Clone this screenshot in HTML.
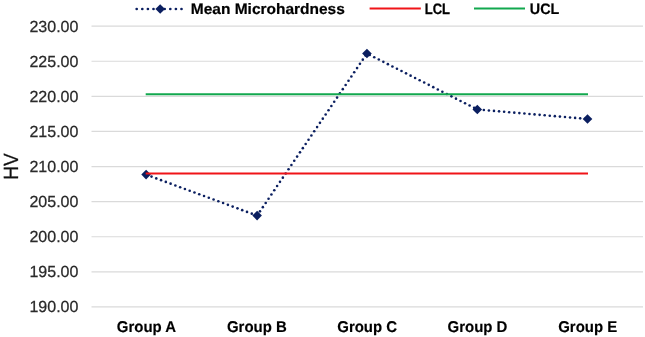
<!DOCTYPE html><html><head><meta charset="utf-8"><style>html,body{margin:0;padding:0;background:#fff;width:645px;height:337px;overflow:hidden}svg{display:block;will-change:transform}text{font-family:"Liberation Sans",sans-serif;text-rendering:geometricPrecision}</style></head><body>
<svg width="645" height="337" viewBox="0 0 645 337">
<rect width="645" height="337" fill="#fff"/>
<line x1="91.5" y1="26.15" x2="643" y2="26.15" stroke="#DADADA" stroke-width="1.2"/>
<line x1="91.5" y1="61.25" x2="643" y2="61.25" stroke="#DADADA" stroke-width="1.2"/>
<line x1="91.5" y1="96.35" x2="643" y2="96.35" stroke="#DADADA" stroke-width="1.2"/>
<line x1="91.5" y1="131.45" x2="643" y2="131.45" stroke="#DADADA" stroke-width="1.2"/>
<line x1="91.5" y1="166.55" x2="643" y2="166.55" stroke="#DADADA" stroke-width="1.2"/>
<line x1="91.5" y1="201.65" x2="643" y2="201.65" stroke="#DADADA" stroke-width="1.2"/>
<line x1="91.5" y1="236.75" x2="643" y2="236.75" stroke="#DADADA" stroke-width="1.2"/>
<line x1="91.5" y1="271.85" x2="643" y2="271.85" stroke="#DADADA" stroke-width="1.2"/>
<line x1="91.5" y1="306.95" x2="643" y2="306.95" stroke="#DADADA" stroke-width="1.2"/>
<text x="78.4" y="31.65" text-anchor="end" font-size="16" fill="#2A2A2A" stroke="#2A2A2A" stroke-width="0.25">230.00</text>
<text x="78.4" y="66.75" text-anchor="end" font-size="16" fill="#2A2A2A" stroke="#2A2A2A" stroke-width="0.25">225.00</text>
<text x="78.4" y="101.85" text-anchor="end" font-size="16" fill="#2A2A2A" stroke="#2A2A2A" stroke-width="0.25">220.00</text>
<text x="78.4" y="136.95" text-anchor="end" font-size="16" fill="#2A2A2A" stroke="#2A2A2A" stroke-width="0.25">215.00</text>
<text x="78.4" y="172.05" text-anchor="end" font-size="16" fill="#2A2A2A" stroke="#2A2A2A" stroke-width="0.25">210.00</text>
<text x="78.4" y="207.15" text-anchor="end" font-size="16" fill="#2A2A2A" stroke="#2A2A2A" stroke-width="0.25">205.00</text>
<text x="78.4" y="242.25" text-anchor="end" font-size="16" fill="#2A2A2A" stroke="#2A2A2A" stroke-width="0.25">200.00</text>
<text x="78.4" y="277.35" text-anchor="end" font-size="16" fill="#2A2A2A" stroke="#2A2A2A" stroke-width="0.25">195.00</text>
<text x="78.4" y="312.45" text-anchor="end" font-size="16" fill="#2A2A2A" stroke="#2A2A2A" stroke-width="0.25">190.00</text>
<text transform="translate(146.50,332) scale(0.96,1)" text-anchor="middle" font-size="15.6" font-weight="bold" fill="#000" stroke="#000" stroke-width="0.15">Group A</text>
<text transform="translate(256.90,332) scale(0.96,1)" text-anchor="middle" font-size="15.6" font-weight="bold" fill="#000" stroke="#000" stroke-width="0.15">Group B</text>
<text transform="translate(367.20,332) scale(0.96,1)" text-anchor="middle" font-size="15.6" font-weight="bold" fill="#000" stroke="#000" stroke-width="0.15">Group C</text>
<text transform="translate(477.50,332) scale(0.96,1)" text-anchor="middle" font-size="15.6" font-weight="bold" fill="#000" stroke="#000" stroke-width="0.15">Group D</text>
<text transform="translate(587.70,332) scale(0.96,1)" text-anchor="middle" font-size="15.6" font-weight="bold" fill="#000" stroke="#000" stroke-width="0.15">Group E</text>
<text transform="translate(18.4,166.5) rotate(-90) scale(0.93,1)" text-anchor="middle" font-size="20.5" fill="#111" stroke="#111" stroke-width="0.3">HV</text>
<g fill="#0B1F60"><circle cx="146.73" cy="174.86" r="1.3"/><circle cx="151.50" cy="176.62" r="1.3"/><circle cx="156.28" cy="178.38" r="1.3"/><circle cx="161.05" cy="180.15" r="1.3"/><circle cx="165.83" cy="181.91" r="1.3"/><circle cx="170.60" cy="183.67" r="1.3"/><circle cx="175.38" cy="185.44" r="1.3"/><circle cx="180.15" cy="187.20" r="1.3"/><circle cx="184.93" cy="188.96" r="1.3"/><circle cx="189.70" cy="190.73" r="1.3"/><circle cx="194.48" cy="192.49" r="1.3"/><circle cx="199.25" cy="194.25" r="1.3"/><circle cx="204.03" cy="196.02" r="1.3"/><circle cx="208.80" cy="197.78" r="1.3"/><circle cx="213.57" cy="199.54" r="1.3"/><circle cx="218.35" cy="201.31" r="1.3"/><circle cx="223.12" cy="203.07" r="1.3"/><circle cx="227.90" cy="204.83" r="1.3"/><circle cx="232.67" cy="206.60" r="1.3"/><circle cx="237.45" cy="208.36" r="1.3"/><circle cx="242.22" cy="210.13" r="1.3"/><circle cx="247.00" cy="211.89" r="1.3"/><circle cx="251.77" cy="213.65" r="1.3"/><circle cx="256.55" cy="215.42" r="1.3"/><circle cx="257.13" cy="215.57" r="1.3"/><circle cx="259.99" cy="211.36" r="1.3"/><circle cx="262.84" cy="207.14" r="1.3"/><circle cx="265.70" cy="202.93" r="1.3"/><circle cx="268.55" cy="198.71" r="1.3"/><circle cx="271.41" cy="194.50" r="1.3"/><circle cx="274.27" cy="190.29" r="1.3"/><circle cx="277.12" cy="186.07" r="1.3"/><circle cx="279.98" cy="181.86" r="1.3"/><circle cx="282.83" cy="177.65" r="1.3"/><circle cx="285.69" cy="173.43" r="1.3"/><circle cx="288.54" cy="169.22" r="1.3"/><circle cx="291.40" cy="165.00" r="1.3"/><circle cx="294.25" cy="160.79" r="1.3"/><circle cx="297.11" cy="156.58" r="1.3"/><circle cx="299.96" cy="152.36" r="1.3"/><circle cx="302.82" cy="148.15" r="1.3"/><circle cx="305.67" cy="143.93" r="1.3"/><circle cx="308.53" cy="139.72" r="1.3"/><circle cx="311.38" cy="135.51" r="1.3"/><circle cx="314.24" cy="131.29" r="1.3"/><circle cx="317.09" cy="127.08" r="1.3"/><circle cx="319.95" cy="122.87" r="1.3"/><circle cx="322.80" cy="118.65" r="1.3"/><circle cx="325.66" cy="114.44" r="1.3"/><circle cx="328.51" cy="110.22" r="1.3"/><circle cx="331.37" cy="106.01" r="1.3"/><circle cx="334.22" cy="101.80" r="1.3"/><circle cx="337.08" cy="97.58" r="1.3"/><circle cx="339.93" cy="93.37" r="1.3"/><circle cx="342.79" cy="89.16" r="1.3"/><circle cx="345.64" cy="84.94" r="1.3"/><circle cx="348.50" cy="80.73" r="1.3"/><circle cx="351.36" cy="76.51" r="1.3"/><circle cx="354.21" cy="72.30" r="1.3"/><circle cx="357.07" cy="68.09" r="1.3"/><circle cx="359.92" cy="63.87" r="1.3"/><circle cx="362.78" cy="59.66" r="1.3"/><circle cx="365.63" cy="55.45" r="1.3"/><circle cx="369.72" cy="54.94" r="1.3"/><circle cx="374.26" cy="57.24" r="1.3"/><circle cx="378.80" cy="59.54" r="1.3"/><circle cx="383.34" cy="61.84" r="1.3"/><circle cx="387.88" cy="64.15" r="1.3"/><circle cx="392.42" cy="66.45" r="1.3"/><circle cx="396.96" cy="68.75" r="1.3"/><circle cx="401.50" cy="71.05" r="1.3"/><circle cx="406.04" cy="73.35" r="1.3"/><circle cx="410.58" cy="75.65" r="1.3"/><circle cx="415.12" cy="77.96" r="1.3"/><circle cx="419.66" cy="80.26" r="1.3"/><circle cx="424.20" cy="82.56" r="1.3"/><circle cx="428.74" cy="84.86" r="1.3"/><circle cx="433.28" cy="87.16" r="1.3"/><circle cx="437.82" cy="89.46" r="1.3"/><circle cx="442.36" cy="91.76" r="1.3"/><circle cx="446.90" cy="94.07" r="1.3"/><circle cx="451.44" cy="96.37" r="1.3"/><circle cx="455.98" cy="98.67" r="1.3"/><circle cx="460.52" cy="100.97" r="1.3"/><circle cx="465.06" cy="103.27" r="1.3"/><circle cx="469.60" cy="105.57" r="1.3"/><circle cx="474.14" cy="107.87" r="1.3"/><circle cx="478.77" cy="109.60" r="1.3"/><circle cx="483.84" cy="110.04" r="1.3"/><circle cx="488.91" cy="110.48" r="1.3"/><circle cx="493.98" cy="110.91" r="1.3"/><circle cx="499.05" cy="111.35" r="1.3"/><circle cx="504.12" cy="111.78" r="1.3"/><circle cx="509.20" cy="112.22" r="1.3"/><circle cx="514.27" cy="112.66" r="1.3"/><circle cx="519.34" cy="113.09" r="1.3"/><circle cx="524.41" cy="113.53" r="1.3"/><circle cx="529.48" cy="113.96" r="1.3"/><circle cx="534.55" cy="114.40" r="1.3"/><circle cx="539.62" cy="114.84" r="1.3"/><circle cx="544.69" cy="115.27" r="1.3"/><circle cx="549.77" cy="115.71" r="1.3"/><circle cx="554.84" cy="116.15" r="1.3"/><circle cx="559.91" cy="116.58" r="1.3"/><circle cx="564.98" cy="117.02" r="1.3"/><circle cx="570.05" cy="117.45" r="1.3"/><circle cx="575.12" cy="117.89" r="1.3"/><circle cx="580.19" cy="118.33" r="1.3"/><circle cx="585.26" cy="118.76" r="1.3"/></g>
<path d="M146.10 169.82L150.90 174.62L146.10 179.42L141.30 174.62Z" fill="#0B1F60"/>
<path d="M257.10 210.82L261.90 215.62L257.10 220.42L252.30 215.62Z" fill="#0B1F60"/>
<path d="M366.93 48.73L371.73 53.53L366.93 58.33L362.13 53.53Z" fill="#0B1F60"/>
<path d="M477.30 104.68L482.10 109.48L477.30 114.28L472.50 109.48Z" fill="#0B1F60"/>
<path d="M587.50 114.15L592.30 118.95L587.50 123.75L582.70 118.95Z" fill="#0B1F60"/>
<line x1="145.70" y1="173.57" x2="588.00" y2="173.57" stroke="#F01418" stroke-width="2"/>
<line x1="145.70" y1="94.21" x2="588.00" y2="94.21" stroke="#12A84E" stroke-width="2"/>
<circle cx="136.70" cy="9.02" r="1.35" fill="#0B1F60"/>
<circle cx="142.30" cy="9.02" r="1.35" fill="#0B1F60"/>
<circle cx="147.90" cy="9.02" r="1.35" fill="#0B1F60"/>
<circle cx="153.50" cy="9.02" r="1.35" fill="#0B1F60"/>
<circle cx="159.10" cy="9.02" r="1.35" fill="#0B1F60"/>
<circle cx="164.70" cy="9.02" r="1.35" fill="#0B1F60"/>
<circle cx="170.30" cy="9.02" r="1.35" fill="#0B1F60"/>
<circle cx="175.90" cy="9.02" r="1.35" fill="#0B1F60"/>
<circle cx="181.50" cy="9.02" r="1.35" fill="#0B1F60"/>
<path d="M160.20 4.22L165.00 9.02L160.20 13.82L155.40 9.02Z" fill="#0B1F60"/>
<text transform="translate(190.8,13.7) scale(1.026,1)" font-size="15.1" font-weight="bold" fill="#000" stroke="#000" stroke-width="0.2">Mean Microhardness</text>
<line x1="369.6" y1="8.6" x2="420.8" y2="8.6" stroke="#F01418" stroke-width="2"/>
<text transform="translate(424.8,13.7) scale(0.86,1)" font-size="15.1" font-weight="bold" fill="#000" stroke="#000" stroke-width="0.3">LCL</text>
<line x1="474" y1="8.6" x2="525" y2="8.6" stroke="#12A84E" stroke-width="2"/>
<text transform="translate(529.8,13.7) scale(0.95,1)" font-size="15.1" font-weight="bold" fill="#000" stroke="#000" stroke-width="0.2">UCL</text>
</svg></body></html>
